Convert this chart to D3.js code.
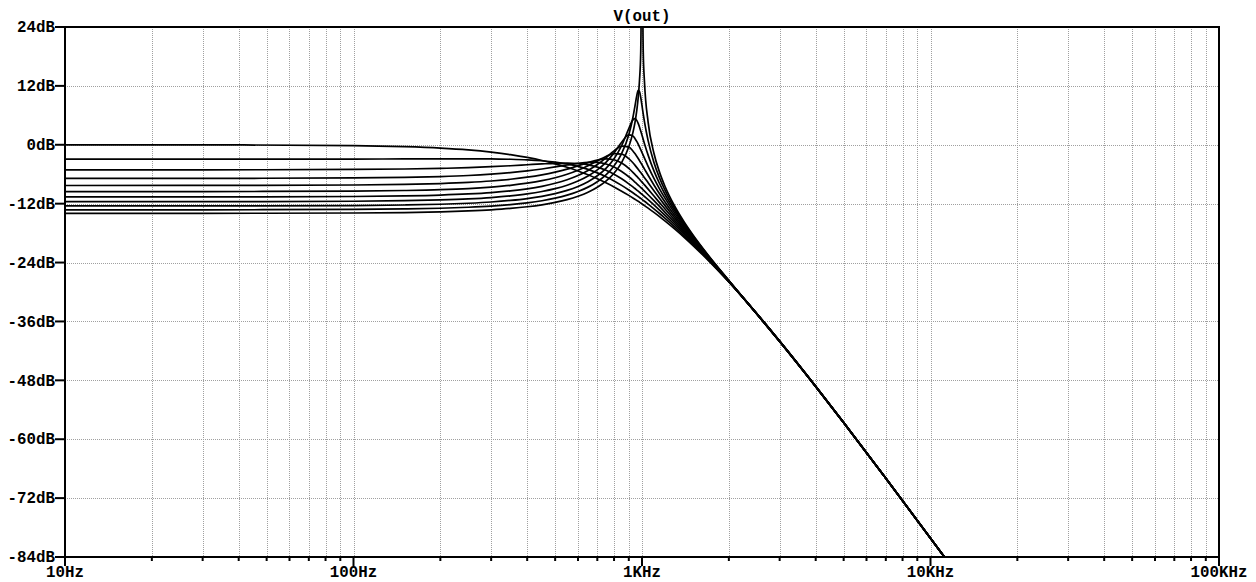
<!DOCTYPE html>
<html>
<head>
<meta charset="utf-8">
<script src="https://cdn.jsdelivr.net/npm/d3@7"></script>
<style>
  html, body { margin: 0; padding: 0; background: #ffffff; }
  svg { display: block; }
  text { font-family: "Liberation Mono", "DejaVu Sans Mono", monospace; font-weight: bold; fill: #000; }
</style>
</head>
<body>
<svg id="chart" width="1256" height="582"></svg>
<script>
// ---- data ----
const title = "V(out)";
const freqHz = [10, 30, 100, 150, 200, 250, 300, 350, 400, 450, 500, 550, 600, 650, 700, 750, 800, 850, 900, 930, 945, 960, 970, 980, 990, 1000, 1010, 1020, 1050, 1100, 1150, 1200, 1300, 1400, 1500, 1700, 2000, 2500, 3000, 4000, 5000, 7000, 10000, 12000];

const db_k00 = [0.00, -0.02, -0.17, -0.39, -0.68, -1.05, -1.50, -2.01, -2.58, -3.20, -3.88, -4.59, -5.34, -6.12, -6.93, -7.75, -8.59, -9.45, -10.31, -10.83, -11.09, -11.35, -11.52, -11.69, -11.87, -12.04, -12.21, -12.39, -12.91, -13.78, -14.64, -15.50, -17.19, -18.85, -20.48, -23.60, -27.96, -34.41, -40.00, -49.22, -56.60, -67.96, -80.17, -86.46];
const db_k04 = [-2.92, -2.92, -2.91, -2.89, -2.88, -2.87, -2.89, -2.95, -3.06, -3.25, -3.52, -3.91, -4.40, -5.01, -5.72, -6.51, -7.36, -8.27, -9.21, -9.78, -10.07, -10.35, -10.55, -10.74, -10.93, -11.13, -11.32, -11.51, -12.09, -13.05, -14.00, -14.93, -16.77, -18.54, -20.24, -23.48, -27.92, -34.42, -40.01, -49.22, -56.60, -67.96, -80.17, -86.46];
const db_k08 = [-5.10, -5.10, -5.03, -4.94, -4.81, -4.66, -4.47, -4.27, -4.07, -3.90, -3.77, -3.73, -3.82, -4.09, -4.55, -5.19, -6.00, -6.94, -7.96, -8.59, -8.91, -9.24, -9.45, -9.67, -9.89, -10.10, -10.32, -10.54, -11.19, -12.26, -13.31, -14.34, -16.33, -18.22, -20.01, -23.36, -27.88, -34.42, -40.02, -49.23, -56.60, -67.96, -80.17, -86.46];
const db_k12 = [-6.85, -6.84, -6.76, -6.64, -6.47, -6.26, -5.99, -5.68, -5.33, -4.93, -4.52, -4.12, -3.78, -3.58, -3.60, -3.91, -4.54, -5.43, -6.52, -7.22, -7.59, -7.95, -8.20, -8.45, -8.70, -8.94, -9.19, -9.44, -10.18, -11.39, -12.57, -13.72, -15.88, -17.90, -19.78, -23.25, -27.85, -34.43, -40.03, -49.24, -56.61, -67.96, -80.17, -86.46];
const db_k16 = [-8.30, -8.29, -8.20, -8.08, -7.90, -7.67, -7.38, -7.03, -6.61, -6.12, -5.56, -4.95, -4.29, -3.64, -3.12, -2.86, -3.05, -3.73, -4.83, -5.62, -6.03, -6.45, -6.74, -7.03, -7.32, -7.60, -7.89, -8.18, -9.04, -10.44, -11.78, -13.05, -15.42, -17.57, -19.56, -23.14, -27.82, -34.43, -40.04, -49.24, -56.61, -67.96, -80.17, -86.46];
const db_k20 = [-9.54, -9.53, -9.45, -9.32, -9.15, -8.92, -8.62, -8.27, -7.83, -7.32, -6.71, -6.00, -5.18, -4.26, -3.28, -2.37, -1.80, -1.91, -2.83, -3.67, -4.15, -4.65, -4.98, -5.33, -5.67, -6.02, -6.37, -6.71, -7.74, -9.38, -10.92, -12.35, -14.95, -17.25, -19.34, -23.03, -27.79, -34.44, -40.05, -49.25, -56.61, -67.96, -80.17, -86.46];
const db_k24 = [-10.63, -10.62, -10.54, -10.42, -10.25, -10.02, -9.74, -9.39, -8.97, -8.46, -7.85, -7.13, -6.27, -5.24, -4.03, -2.65, -1.23, -0.26, -0.47, -1.26, -1.79, -2.38, -2.79, -3.22, -3.65, -4.08, -4.52, -4.95, -6.22, -8.19, -9.98, -11.61, -14.47, -16.93, -19.12, -22.93, -27.76, -34.44, -40.06, -49.26, -56.62, -67.97, -80.17, -86.46];
const db_k28 = [-11.60, -11.59, -11.51, -11.39, -11.23, -11.02, -10.75, -10.41, -10.01, -9.52, -8.94, -8.24, -7.40, -6.37, -5.12, -3.57, -1.65, 0.50, 2.00, 1.78, 1.30, 0.63, 0.11, -0.44, -1.01, -1.58, -2.16, -2.73, -4.38, -6.85, -8.97, -10.83, -13.98, -16.61, -18.91, -22.84, -27.74, -34.45, -40.07, -49.27, -56.62, -67.97, -80.17, -86.46];
const db_k32 = [-12.47, -12.46, -12.38, -12.27, -12.12, -11.91, -11.66, -11.34, -10.96, -10.50, -9.95, -9.29, -8.49, -7.52, -6.32, -4.81, -2.83, -0.17, 3.30, 5.08, 5.32, 4.93, 4.36, 3.63, 2.80, 1.94, 1.07, 0.23, -2.11, -5.32, -7.89, -10.03, -13.50, -16.31, -18.70, -22.74, -27.71, -34.46, -40.08, -49.27, -56.63, -67.97, -80.18, -86.46];
const db_k36 = [-13.26, -13.25, -13.17, -13.07, -12.93, -12.73, -12.49, -12.19, -11.83, -11.40, -10.88, -10.27, -9.52, -8.63, -7.52, -6.13, -4.31, -1.79, 2.04, 5.56, 7.82, 10.13, 11.07, 10.88, 9.64, 7.96, 6.25, 4.68, 0.84, -3.59, -6.74, -9.21, -13.03, -16.01, -18.51, -22.66, -27.69, -34.46, -40.09, -49.28, -56.63, -67.97, -80.18, -86.46];
const db_k40 = [-13.98, -13.97, -13.90, -13.81, -13.67, -13.48, -13.25, -12.97, -12.63, -12.23, -11.74, -11.17, -10.48, -9.66, -8.65, -7.40, -5.79, -3.62, -0.42, 2.48, 4.48, 7.15, 9.58, 13.04, 18.99, 40.00, 18.86, 12.78, 4.62, -1.72, -5.57, -8.40, -12.57, -15.73, -18.33, -22.58, -27.67, -34.47, -40.10, -49.29, -56.64, -67.97, -80.18, -86.46];

const seriesList = [db_k00, db_k04, db_k08, db_k12, db_k16, db_k20, db_k24, db_k28, db_k32, db_k36, db_k40];

const yTicks = [24, 12, 0, -12, -24, -36, -48, -60, -72, -84];
const yTickLabels = ["24dB", "12dB", "0dB", "-12dB", "-24dB", "-36dB", "-48dB", "-60dB", "-72dB", "-84dB"];
const xDecades = [10, 100, 1000, 10000, 100000];
const xDecadeLabels = ["10Hz", "100Hz", "1KHz", "10KHz", "100KHz"];
const xMinorMult = [2, 3, 4, 5, 6, 7, 8, 9];

// ---- layout ----
const L = 65, R = 1219, T = 27, B = 557;
const svg = d3.select("#chart");

const x = d3.scaleLog().domain([10, 100000]).range([L, R]);
const y = d3.scaleLinear().domain([-84, 24]).range([B, T]);

const minorFreqs = [];
xDecades.slice(0, -1).forEach(d => xMinorMult.forEach(m => minorFreqs.push(d * m)));

// grid
const grid = svg.append("g").attr("stroke", "#a0a0a0").attr("stroke-width", 1).attr("stroke-dasharray", "1,1").attr("shape-rendering", "crispEdges");
minorFreqs.concat(xDecades.slice(1, -1)).forEach(f => {
  const px = Math.round(x(f)) + 0.5;
  grid.append("line").attr("x1", px).attr("x2", px).attr("y1", T).attr("y2", B);
});
yTicks.slice(1, -1).forEach(v => {
  const py = Math.round(y(v)) + 0.5;
  grid.append("line").attr("x1", L).attr("x2", R).attr("y1", py).attr("y2", py);
});

// curves
svg.append("clipPath").attr("id", "plotclip").append("rect")
  .attr("x", L).attr("y", T).attr("width", R - L).attr("height", B - T);
const line = d3.line()
  .x((d, i) => x(freqHz[i]))
  .y(d => y(d))
  .curve(d3.curveMonotoneX);
const traces = svg.append("g").attr("clip-path", "url(#plotclip)");
seriesList.forEach(s => {
  traces.append("path").attr("d", line(s)).attr("fill", "none")
    .attr("stroke", "#000").attr("stroke-width", 1.7).attr("stroke-linejoin", "round");
});

// frame
svg.append("rect").attr("x", L).attr("y", T).attr("width", R - L).attr("height", B - T)
  .attr("fill", "none").attr("stroke", "#000").attr("stroke-width", 2);

// y ticks + labels
yTicks.forEach((v, i) => {
  const py = y(v);
  svg.append("line").attr("x1", L - 10).attr("x2", L).attr("y1", py).attr("y2", py)
    .attr("stroke", "#000").attr("stroke-width", 2);
  svg.append("text").attr("x", L - 10).attr("y", py).attr("dy", "0.33em")
    .attr("text-anchor", "end").attr("font-size", "15.8px").text(yTickLabels[i]);
});

// x ticks + labels
minorFreqs.forEach(f => {
  svg.append("line").attr("x1", x(f)).attr("x2", x(f)).attr("y1", B).attr("y2", B + 4)
    .attr("stroke", "#000").attr("stroke-width", 2);
});
xDecades.forEach((f, i) => {
  svg.append("line").attr("x1", x(f)).attr("x2", x(f)).attr("y1", B).attr("y2", B + 9)
    .attr("stroke", "#000").attr("stroke-width", 2);
  svg.append("text").attr("x", x(f)).attr("y", 577)
    .attr("text-anchor", "middle").attr("font-size", "15.8px").text(xDecadeLabels[i]);
});

// title
svg.append("text").attr("x", (L + R) / 2).attr("y", 21).attr("text-anchor", "middle")
  .attr("font-size", "15.8px").text(title);
</script>
</body>
</html>
